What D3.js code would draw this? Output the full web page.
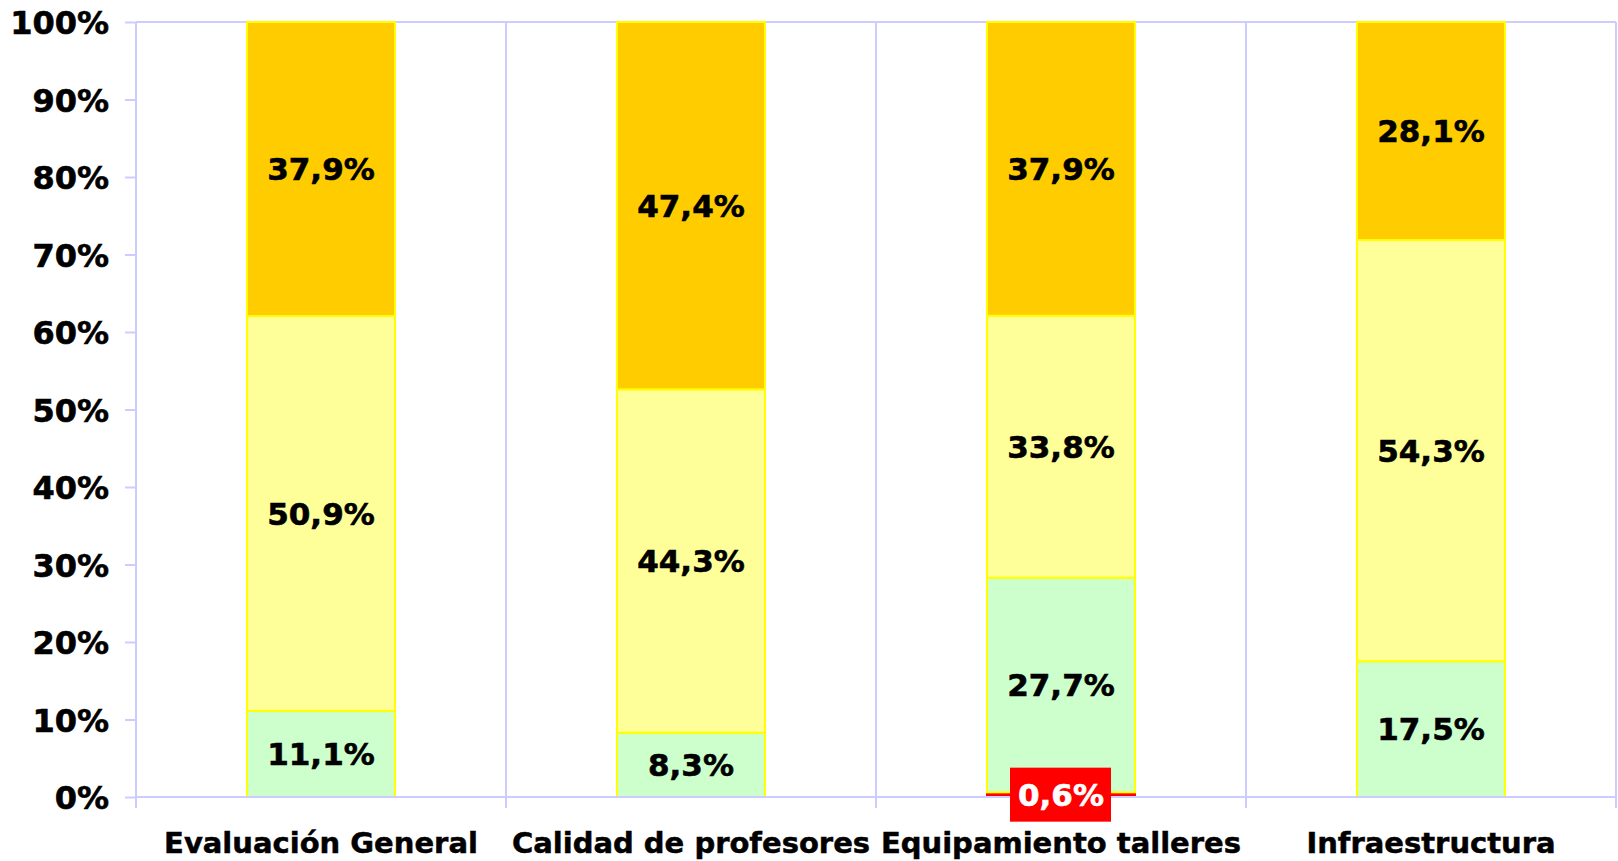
<!DOCTYPE html>
<html>
<head>
<meta charset="utf-8">
<script src="https://cdn.jsdelivr.net/npm/d3@7"></script>
<style>
  html, body { margin: 0; padding: 0; background: #fff; }
  svg { display: block; font-family: "DejaVu Sans", Verdana, sans-serif; font-weight: bold; }
</style>
</head>
<body>
<div id="app"></div>
<script>
// data
const categories = ['Evaluación General', 'Calidad de profesores', 'Equipamiento talleres', 'Infraestructura'];
const seriesKeys = ['rojo', 'verde', 'amarillo', 'naranja'];
const rojo = [0, 0, 0.6, 0];
const verde = [11.1, 8.3, 27.7, 17.5];
const amarillo = [50.9, 44.3, 33.8, 54.3];
const naranja = [37.9, 47.4, 37.9, 28.1];
const yTicks = [0, 10, 20, 30, 40, 50, 60, 70, 80, 90, 100];

const colors = { rojo: '#ff0000', verde: '#ccffcc', amarillo: '#ffff99', naranja: '#ffcc00' };
const gridColor = '#ccccff';

const W = 1618, H = 861;
const margin = { top: 22, right: 2, bottom: 64, left: 136 };
const width = W - margin.left - margin.right;
const height = H - margin.top - margin.bottom;

const svg = d3.select('#app').append('svg').attr('width', W).attr('height', H);
const g = svg.append('g').attr('transform', `translate(${margin.left}, ${margin.top})`);

// build rows, normalised to 100%
const rows = categories.map((c, i) => {
  const vals = { rojo: rojo[i], verde: verde[i], amarillo: amarillo[i], naranja: naranja[i] };
  const total = d3.sum(seriesKeys, k => vals[k]);
  const row = { cat: c };
  seriesKeys.forEach(k => { row[k] = vals[k] / total * 100; row['lbl_' + k] = vals[k]; });
  return row;
});

const series = d3.stack().keys(seriesKeys)(rows);

const x = d3.scaleBand().domain(categories).range([0, width]).paddingInner(0).paddingOuter(0);
const y = d3.scaleLinear().domain([0, 100]).range([height, 0]);

const barW = x.bandwidth() * 0.4;

// gridlines at category boundaries + frame
const bounds = categories.map(c => x(c) + x.bandwidth());
g.selectAll('line.vgrid').data(bounds).join('line')
  .attr('x1', d => d).attr('x2', d => d)
  .attr('y1', 0).attr('y2', height + 11)
  .attr('stroke', gridColor).attr('stroke-width', 2);
g.append('line').attr('x1', 0).attr('x2', width).attr('y1', y(100)).attr('y2', y(100))
  .attr('stroke', gridColor).attr('stroke-width', 2);

// y axis
const yAxis = g.append('g').call(d3.axisLeft(y).tickValues(yTicks).tickSize(11).tickPadding(16).tickFormat(d => d + '%'));
yAxis.select('.domain').remove();
yAxis.selectAll('.tick line').attr('stroke', gridColor).attr('stroke-width', 2);
yAxis.selectAll('.tick text').attr('font-size', 32).attr('fill', '#000')
  .attr('font-family', '"DejaVu Sans", Verdana, sans-serif').attr('font-weight', 'bold')
  .attr('stroke', '#000').attr('stroke-width', 0.6).attr('dy', '0.36em');
g.append('line').attr('x1', 0).attr('x2', 0).attr('y1', 0).attr('y2', height + 11)
  .attr('stroke', gridColor).attr('stroke-width', 2);

// bars
g.selectAll('g.series').data(series).join('g')
  .attr('class', 'series')
  .attr('fill', d => colors[d.key])
  .selectAll('rect')
  .data(d => d.map(e => ({ ...e, key: d.key })))
  .join('rect')
  .attr('x', d => x(d.data.cat) + (x.bandwidth() - barW) / 2)
  .attr('y', d => y(d[1]))
  .attr('width', barW)
  .attr('height', d => y(d[0]) - y(d[1]))
  .attr('stroke', d => d.key === 'rojo' ? '#ff0000' : '#ffff00')
  .attr('stroke-width', 2);

// x axis line
g.append('line').attr('x1', 0).attr('x2', width).attr('y1', height).attr('y2', height)
  .attr('stroke', gridColor).attr('stroke-width', 2);

// value labels
const fmt = v => v.toFixed(1).replace('.', ',') + '%';
const labels = [];
series.forEach(s => s.forEach(e => {
  const v = e.data['lbl_' + s.key];
  if (v > 0) labels.push({ key: s.key, cat: e.data.cat, v, yc: y((e[0] + e[1]) / 2) });
}));

const lg = g.selectAll('g.lbl').data(labels).join('g')
  .attr('class', 'lbl')
  .attr('transform', d => `translate(${x(d.cat) + x.bandwidth() / 2}, ${d.yc})`);
lg.filter(d => d.key === 'rojo').append('rect')
  .attr('x', -51).attr('y', -27).attr('width', 101).attr('height', 54)
  .attr('fill', '#ff0000');
lg.append('text')
  .attr('text-anchor', 'middle').attr('dy', '0.36em')
  .attr('font-size', 31)
  .attr('fill', d => d.key === 'rojo' ? '#fff' : '#000')
  .attr('stroke', d => d.key === 'rojo' ? '#fff' : '#000')
  .attr('stroke-width', 0.6)
  .text(d => fmt(d.v));

// x labels
g.selectAll('text.xl').data(categories).join('text')
  .attr('class', 'xl')
  .attr('x', d => x(d) + x.bandwidth() / 2)
  .attr('y', height + 56)
  .attr('text-anchor', 'middle')
  .attr('font-size', 29)
  .attr('stroke', '#000').attr('stroke-width', 0.5)
  .text(d => d);
</script>
</body>
</html>
